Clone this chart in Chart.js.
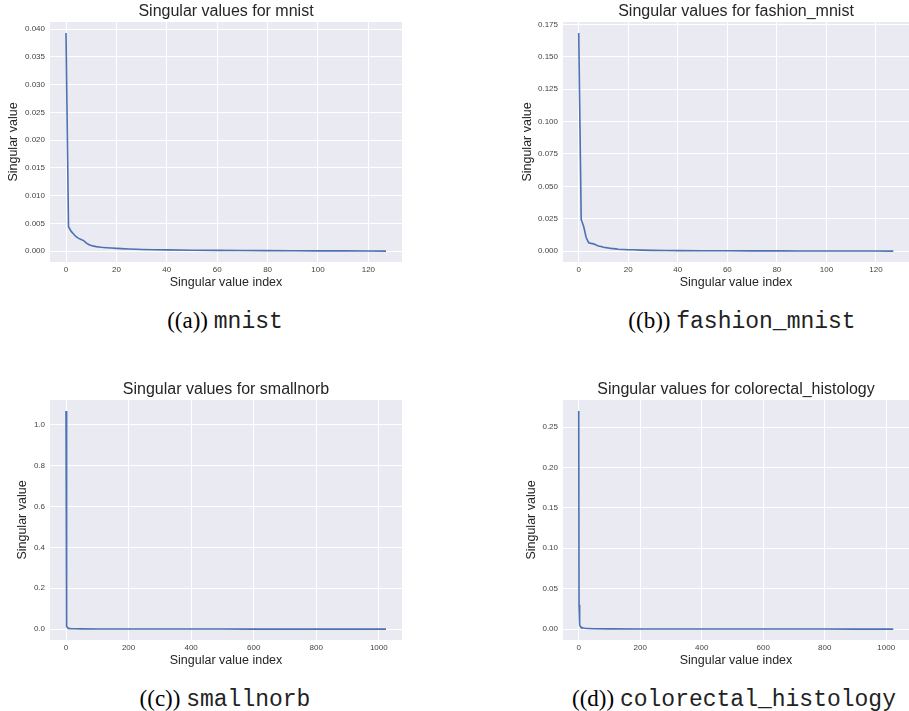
<!DOCTYPE html>
<html>
<head>
<meta charset="utf-8">
<script src="https://cdn.jsdelivr.net/npm/chart.js@4.4.0/dist/chart.umd.min.js"></script>
<style>
  body { margin: 0; background: #fff; width: 909px; height: 711px; position: relative; overflow: hidden; }
  canvas { position: absolute; }
  .cap { position: absolute; width: 420px; text-align: center; font: 23px "Liberation Serif", serif; line-height: 30px; color: #000; white-space: nowrap; }
  .cap span { font-family: "Liberation Mono", monospace; color: #222; }
</style>
</head>
<body>
<canvas id="c0" width="420" height="300" style="left:0;top:0"></canvas>
<canvas id="c1" width="439" height="300" style="left:470px;top:0"></canvas>
<canvas id="c2" width="420" height="300" style="left:0;top:378px"></canvas>
<canvas id="c3" width="439" height="300" style="left:470px;top:378px"></canvas>

<div class="cap" style="left:15px;top:306px">((a)) <span>mnist</span></div>
<div class="cap" style="left:532px;top:306px">((b)) <span>fashion_mnist</span></div>
<div class="cap" style="left:15px;top:684px">((c)) <span>smallnorb</span></div>
<div class="cap" style="left:524px;top:684px">((d)) <span>colorectal_histology</span></div>

<script>
// singular values (index, value)
const mnistIdx = [0,1,2,3,4,5,6,7,8,9,10,11,12,13,14,15,16,18,20,22,25,28,30,35,40,50,60,70,80,90,100,110,120,127];
const mnistVal = [0.0393,0.0044,0.0036,0.0031,0.0026,0.0023,0.0021,0.0019,0.0015,0.0012,0.0010,0.0009,0.00082,0.00076,0.0007,0.00066,0.00062,0.00056,0.0005,0.00046,0.0004,0.00034,0.00031,0.00026,0.00022,0.00017,0.00013,0.00011,0.00009,0.00007,0.00005,0.00004,0.00002,0.00001];

const fashionIdx = [0,1,2,3,4,5,6,7,8,9,10,11,12,13,14,15,16,18,20,22,25,30,35,40,50,60,70,80,90,100,110,120,127];
const fashionVal = [0.1685,0.0245,0.019,0.0105,0.0065,0.006,0.0056,0.0047,0.004,0.0035,0.003,0.0027,0.0024,0.0021,0.0019,0.0017,0.0015,0.0013,0.0011,0.001,0.0008,0.0006,0.0005,0.0004,0.0003,0.00025,0.0002,0.00015,0.00012,0.0001,0.00007,0.00004,0.00002];

const norbIdx = [0,1,2,3,4,5,7,10,15,20,30,50,100,200,300,400,500,600,700,800,900,1000,1023];
const norbVal = [1.067,0.06,0.025,0.013,0.009,0.007,0.005,0.0035,0.0025,0.002,0.0015,0.001,0.0006,0.0003,0.0002,0.00015,0.0001,0.00008,0.00006,0.00004,0.00003,0.00001,0.00001];

const colorIdx = [0,1,2,3,4,5,7,10,15,20,30,50,100,200,300,400,500,600,700,800,900,1000,1023];
const colorVal = [0.27,0.03,0.012,0.007,0.005,0.0035,0.0025,0.0018,0.0013,0.001,0.0008,0.0005,0.0003,0.00015,0.0001,0.00008,0.00006,0.00005,0.00004,0.00003,0.00002,0.00001,0.00001];

// tick values
const xTicksSmall = [0,20,40,60,80,100,120];
const xTicksLarge = [0,200,400,600,800,1000];
const mnistYTicks = [0,0.005,0.010,0.015,0.020,0.025,0.030,0.035,0.040];
const fashionYTicks = [0,0.025,0.050,0.075,0.100,0.125,0.150,0.175];
const norbYTicks = [0,0.2,0.4,0.6,0.8,1.0];
const colorYTicks = [0,0.05,0.10,0.15,0.20,0.25];

const sans = '"Liberation Sans", Arial, sans-serif';

// grey plot background + title centred over the plot area (like matplotlib)
const plotBg = {
  id: 'plotBg',
  beforeDraw(chart) {
    const {ctx, chartArea: a} = chart;
    ctx.save();
    ctx.fillStyle = '#EAEAF2';
    ctx.fillRect(a.left, a.top, a.right - a.left, a.bottom - a.top);
    ctx.restore();
  },
  afterDraw(chart, args, opts) {
    const {ctx, chartArea: a} = chart;
    ctx.save();
    ctx.font = '16px ' + sans;
    ctx.fillStyle = '#262626';
    ctx.textAlign = 'center';
    ctx.textBaseline = 'middle';
    ctx.fillText(opts.text, (a.left + a.right) / 2, a.top - 10);
    ctx.restore();
  }
};

function withMargin(arr) {
  const lo = Math.min(...arr), hi = Math.max(...arr);
  const m = (hi - lo) * 0.05;
  return [lo - m, hi + m];
}

function makePanel(id, title, idx, vals, xTicks, yTicks, yDec, yAxisW, yTitlePad, padRight) {
  const [xmin, xmax] = withMargin(idx);
  const [ymin, ymax] = withMargin(vals);
  const pts = idx.map((x, i) => ({x: x, y: vals[i]}));
  new Chart(document.getElementById(id), {
    type: 'line',
    data: { datasets: [{ data: pts, borderColor: '#4C72B0', borderWidth: 1.6, pointRadius: 0, tension: 0, fill: false }] },
    options: {
      responsive: false,
      animation: false,
      devicePixelRatio: 1,
      layout: { padding: { left: 0, right: padRight, top: 22, bottom: 0 } },
      plugins: {
        legend: { display: false },
        tooltip: { enabled: false },
        title: { display: false },
        plotBg: { text: title }
      },
      scales: {
        x: {
          type: 'linear', min: xmin, max: xmax,
          afterBuildTicks: s => { s.ticks = xTicks.map(v => ({value: v})); },
          afterFit: s => { s.height = 38; },
          grid: { color: '#ffffff', lineWidth: 1, drawTicks: false },
          border: { display: false },
          ticks: { autoSkip: false, maxRotation: 0, padding: 3, color: '#444', font: { family: sans, size: 8 }, callback: v => String(v) },
          title: { display: true, text: 'Singular value index', color: '#262626', font: { family: sans, size: 12.5 }, padding: { top: 0, bottom: 9.5 } }
        },
        y: {
          type: 'linear', min: ymin, max: ymax,
          afterBuildTicks: s => { s.ticks = yTicks.map(v => ({value: v})); },
          afterFit: s => { s.width = yAxisW; },
          grid: { color: '#ffffff', lineWidth: 1, drawTicks: false },
          border: { display: false },
          ticks: { autoSkip: false, padding: 5, color: '#444', font: { family: sans, size: 8 }, callback: v => v.toFixed(yDec) },
          title: { display: true, text: 'Singular value', color: '#262626', font: { family: sans, size: 12.5 }, padding: { top: yTitlePad, bottom: 0 } }
        }
      }
    },
    plugins: [plotBg]
  });
}

makePanel('c0', 'Singular values for mnist', mnistIdx, mnistVal, xTicksSmall, mnistYTicks, 3, 50, 6.5, 18);
makePanel('c1', 'Singular values for fashion_mnist', fashionIdx, fashionVal, xTicksSmall, fashionYTicks, 3, 93, 50, 0);
makePanel('c2', 'Singular values for smallnorb', norbIdx, norbVal, xTicksLarge, norbYTicks, 1, 50, 15.5, 18);
makePanel('c3', 'Singular values for colorectal_histology', colorIdx, colorVal, xTicksLarge, colorYTicks, 2, 93, 54.5, 0);
</script>
</body>
</html>
